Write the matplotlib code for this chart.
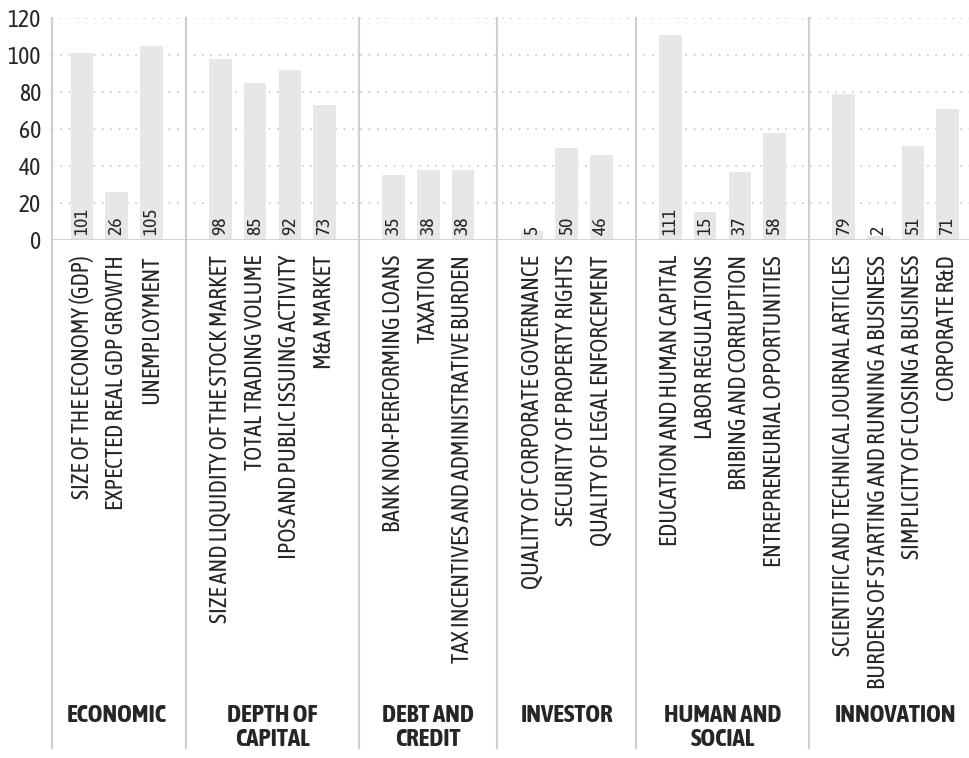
import matplotlib
matplotlib.use("Agg")
from matplotlib import pyplot as plt
from matplotlib import transforms

# ============== DATA ==============
groups = ["ECONOMIC", "DEPTH OF\nCAPITAL", "DEBT AND\nCREDIT", "INVESTOR",
          "HUMAN AND\nSOCIAL", "INNOVATION"]
economic = ["SIZE OF THE ECONOMY (GDP)", "EXPECTED REAL GDP GROWTH", "UNEMPLOYMENT"]
economic_vals = [101, 26, 105]
capital = ["SIZE AND LIQUIDITY OF THE STOCK MARKET", "TOTAL TRADING VOLUME",
           "IPOS AND PUBLIC ISSUING ACTIVITY", "M&A MARKET"]
capital_vals = [98, 85, 92, 73]
credit = ["BANK NON-PERFORMING LOANS", "TAXATION",
          "TAX INCENTIVES AND ADMINISTRATIVE BURDEN"]
credit_vals = [35, 38, 38]
investor = ["QUALITY OF CORPORATE GOVERNANCE", "SECURITY OF PROPERTY RIGHTS",
            "QUALITY OF LEGAL ENFORCEMENT"]
investor_vals = [5, 50, 46]
human = ["EDUCATION AND HUMAN CAPITAL", "LABOR REGULATIONS",
         "BRIBING AND CORRUPTION", "ENTREPRENEURIAL OPPORTUNITIES"]
human_vals = [111, 15, 37, 58]
innovation = ["SCIENTIFIC AND TECHNICAL JOURNAL ARTICLES",
              "BURDENS OF STARTING AND RUNNING A BUSINESS",
              "SIMPLICITY OF CLOSING A BUSINESS", "CORPORATE R&D"]
innovation_vals = [79, 2, 51, 71]
yticks = [0, 20, 40, 60, 80, 100, 120]

all_labels = [economic, capital, credit, investor, human, innovation]
all_vals = [economic_vals, capital_vals, credit_vals, investor_vals, human_vals, innovation_vals]

FONT = ["Asap Condensed", "DejaVu Sans"]
TXT = "#262626"
LINE = "#cfcfcf"

fig = plt.figure(figsize=(9.7, 7.58), dpi=100)
ax = fig.add_axes([52 / 970, (758 - 240) / 758, (970 - 52) / 970, 222 / 758])

# positions: one empty slot between groups
xs, vals, labs, seps, centers = [], [], [], [], []
pos = 0
for g in range(len(groups)):
    start = pos
    for lab, v in zip(all_labels[g], all_vals[g]):
        xs.append(pos)
        vals.append(v)
        labs.append(lab)
        pos += 1
    centers.append((start + pos - 1) / 2)
    if g < len(groups) - 1:
        seps.append(pos)
    pos += 1

ax.bar(xs, vals, width=0.65, color="#e6e7e8", zorder=2)

ax.set_xlim(-0.87, 25.65)
ax.set_ylim(0, 120)
ax.set_yticks(yticks)
ax.set_yticklabels([str(t) for t in yticks], family=FONT, fontsize=17, color=TXT)
ax.tick_params(axis="y", length=0, pad=8)
ax.set_xticks([])
for s in ax.spines.values():
    s.set_visible(False)

# dotted gridlines
for t in yticks[1:]:
    ax.axhline(t, color="#c8c8c8", linestyle=(0, (1, 4)), linewidth=1.2, zorder=1)
ax.axhline(0, color=LINE, linewidth=2, zorder=3)

# left axis line and group separators run down through the label area
ax.axvline(-0.87, ymin=-2.29, ymax=1, color=LINE, linewidth=1.5, clip_on=False)
for s in seps:
    ax.axvline(s, ymin=-2.29, ymax=1, color=LINE, linewidth=1.5, clip_on=False)

# value labels inside bars
for x, v in zip(xs, vals):
    ax.text(x, 2.5, str(v), rotation=90, ha="center", va="bottom",
            family=FONT, fontsize=14, color=TXT, zorder=4)

trans = transforms.blended_transform_factory(ax.transData, ax.transAxes)
# category labels
for x, lab in zip(xs, labs):
    ax.text(x, -0.068, lab, rotation=90, ha="center", va="top", transform=trans,
            family=FONT, fontsize=17, color=TXT)

# group labels
for c, g in zip(centers, groups):
    ax.text(c, -2.09, g, ha="center", va="top", transform=trans, family=FONT,
            fontsize=18, fontweight="bold", color=TXT, linespacing=1.05)

fig.savefig("out.png", dpi=100)
